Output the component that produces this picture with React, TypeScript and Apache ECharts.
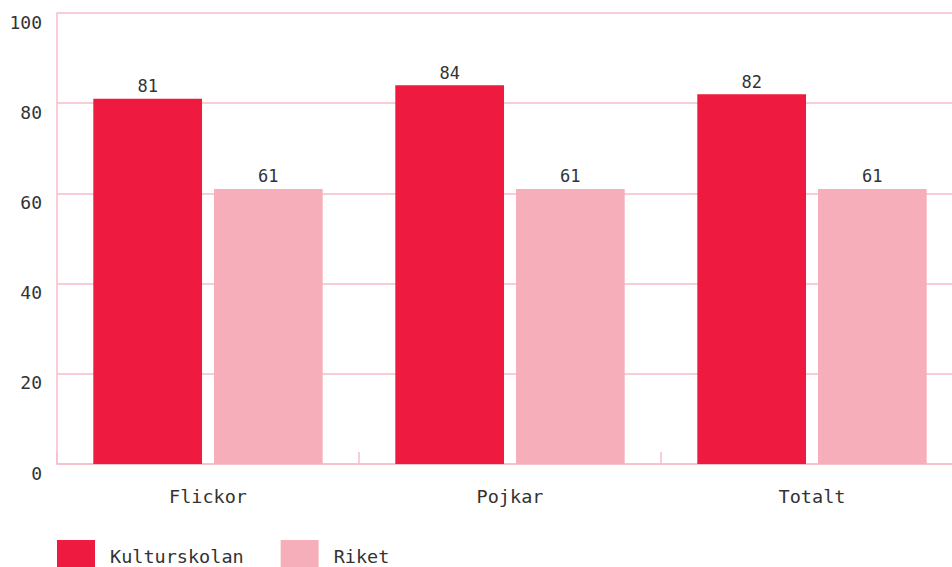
import React, { useEffect, useRef } from "react";
import * as echarts from "echarts";

const categories = ["Flickor", "Pojkar", "Totalt"];
const kulturskolan = [81, 84, 82];
const riket = [61, 61, 61];
const seriesNames = ["Kulturskolan", "Riket"];

const FONT = "'DejaVu Sans Mono', 'Liberation Mono', monospace";
const PINK_LINE = "#F7BCC8";

export default function App() {
  const ref = useRef<HTMLDivElement>(null);
  useEffect(() => {
    document.body.style.margin = "0";
    document.body.style.overflow = "hidden";
    const chart = echarts.init(ref.current!, null, { renderer: "svg" });
    chart.setOption({
      animation: false,
      textStyle: { fontFamily: FONT },
      grid: { left: 57, right: 1, top: 13, bottom: 103 },
      legend: {
        left: 57,
        top: 540,
        padding: 0,
        itemWidth: 38,
        itemHeight: 32,
        itemGap: 37,
        icon: "rect",
        textStyle: { fontFamily: FONT, fontSize: 18.5, color: "#333", padding: [0, 0, 0, 10] },
        data: seriesNames,
      },
      xAxis: {
        type: "category",
        data: categories,
        axisLine: { lineStyle: { color: PINK_LINE, width: 1.5 } },
        axisTick: { show: true, inside: true, length: 12, lineStyle: { color: PINK_LINE, width: 1.5 } },
        axisLabel: { fontFamily: FONT, fontSize: 18.5, color: "#333", margin: 23 },
      },
      yAxis: {
        type: "value",
        min: 0,
        max: 100,
        interval: 20,
        axisLine: { show: true, lineStyle: { color: PINK_LINE, width: 1.5 } },
        axisTick: { show: false },
        splitLine: { lineStyle: { color: PINK_LINE, width: 1.5 } },
        axisLabel: { fontFamily: FONT, fontSize: 18, color: "#333", margin: 15, verticalAlign: "top" },
      },
      series: [
        {
          name: seriesNames[0],
          type: "bar",
          data: kulturskolan,
          barWidth: "36%",
          barGap: "11%",
          itemStyle: { color: "#EE1A3F" },
          label: { show: true, position: "top", distance: 4, fontFamily: FONT, fontSize: 17, color: "#333" },
        },
        {
          name: seriesNames[1],
          type: "bar",
          data: riket,
          barWidth: "36%",
          itemStyle: { color: "#F6AFBA" },
          label: { show: true, position: "top", distance: 4, fontFamily: FONT, fontSize: 17, color: "#333" },
        },
      ],
    });
    return () => chart.dispose();
  }, []);
  return <div ref={ref} style={{ width: 964, height: 567 }} />;
}
